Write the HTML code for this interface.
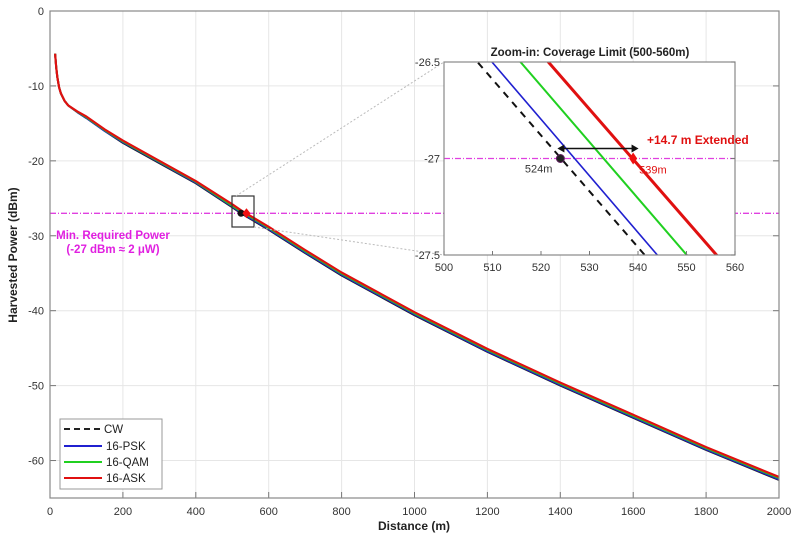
<!DOCTYPE html>
<html><head><meta charset="utf-8"><style>
html,body{margin:0;padding:0;background:#fff;}
svg{display:block;font-family:"Liberation Sans",Arial,sans-serif;}
</style></head><body>
<svg id="chart" width="800" height="542" viewBox="0 0 800 542">
<defs>
<clipPath id="mainClip"><rect x="50" y="11" width="729" height="487"/></clipPath>
<clipPath id="insetClip"><rect x="444" y="62" width="291" height="193"/></clipPath>
</defs>
<rect x="50" y="11" width="729" height="487" fill="#fff"/>
<g id="grid"></g>
<g id="series" clip-path="url(#mainClip)"></g>
<g id="axes"></g>
<g id="inset"></g>
<text x="414" y="530" text-anchor="middle" font-size="12" font-weight="bold" fill="#222">Distance (m)</text>
<text transform="translate(17,255) rotate(-90)" text-anchor="middle" font-size="12" font-weight="bold" fill="#222">Harvested Power (dBm)</text>
<text x="113" y="239" text-anchor="middle" font-size="11.5" font-weight="bold" fill="#e020e0">Min. Required Power</text>
<text x="113" y="253" text-anchor="middle" font-size="11.5" font-weight="bold" fill="#e020e0">(-27  dBm  ≈ 2  μW)</text>
<g>
<rect x="60" y="419" width="102" height="70" fill="#fff" stroke="#999" stroke-width="1"/>
<line x1="64" y1="429" x2="102" y2="429" stroke="#222" stroke-width="2" stroke-dasharray="6,4"/>
<text x="104" y="433" font-size="11.5" fill="#222">CW</text>
<line x1="64" y1="446" x2="102" y2="446" stroke="#2020d0" stroke-width="2"/>
<text x="106" y="450" font-size="11.5" fill="#222">16-PSK</text>
<line x1="64" y1="462" x2="102" y2="462" stroke="#20d020" stroke-width="2"/>
<text x="106" y="466" font-size="11.5" fill="#222">16-QAM</text>
<line x1="64" y1="478" x2="102" y2="478" stroke="#e01010" stroke-width="2"/>
<text x="106" y="482" font-size="11.5" fill="#222">16-ASK</text>
</g>
</svg>
<script>
const distances = [14,17,20,25,30,40,50,75,100,150,200,300,400,500,524,600,700,800,1000,1200,1400,1600,1800,2000];
const cwPower   = [-5.7,-7.5,-8.8,-10.2,-11,-12,-12.6,-13.5,-14.3,-16,-17.6,-20.3,-23,-26.2,-27,-29.2,-32.3,-35.3,-40.6,-45.5,-50,-54.3,-58.6,-62.6];
const pskPower  = [-5.7,-7.5,-8.8,-10.2,-11,-12,-12.6,-13.5,-14.3,-16,-17.5,-20.2,-22.9,-26.1,-26.9,-29.1,-32.2,-35.2,-40.5,-45.4,-49.9,-54.2,-58.5,-62.5];
const qamPower  = [-5.7,-7.5,-8.8,-10.2,-11,-12,-12.6,-13.45,-14.2,-15.9,-17.4,-20.1,-22.8,-26,-26.75,-28.95,-32.05,-35.05,-40.35,-45.25,-49.75,-54.05,-58.35,-62.35];
const askPower  = [-5.7,-7.5,-8.8,-10.2,-11,-12,-12.6,-13.4,-14.1,-15.8,-17.3,-20,-22.7,-25.8,-26.6,-28.8,-31.9,-34.9,-40.2,-45.1,-49.6,-53.9,-58.2,-62.2];
const xTicks = [0,200,400,600,800,1000,1200,1400,1600,1800,2000];
const yTicks = [0,-10,-20,-30,-40,-50,-60];
const minPower = -27;
const insetRange = [500,560];
const cwInset  = [-26.30,-28.04];
const pskInset = [-26.21,-27.97];
const qamInset = [-26.04,-27.79];
const askInset = [-25.88,-27.61];
const insetXTicks = [500,510,520,530,540,550,560];
const insetYTicks = [-26.5,-27,-27.5];
const cwLimit = 524, askLimit = 539;

const NS = "http://www.w3.org/2000/svg";
function mk(tag, attrs, parent){const e=document.createElementNS(NS,tag);for(const k in attrs)e.setAttribute(k,attrs[k]);parent.appendChild(e);return e;}
const X = d => 50 + d/2000*729;
const Y = p => 11 + (-p)/65*487;
const grid=document.getElementById('grid'), axes=document.getElementById('axes'), ser=document.getElementById('series'), inset=document.getElementById('inset');

xTicks.forEach(t=>{
  const g=mk('line',{x1:X(t),x2:X(t),y1:11,y2:498,stroke:'#e6e6e6','stroke-width':1},grid);
  
  
  const tx=mk('text',{x:X(t),y:515,'text-anchor':'middle','font-size':11,fill:'#333'},axes);
  tx.textContent=t;
  
  
  mk('line',{x1:X(t),x2:X(t),y1:498,y2:492,stroke:'#777'},axes);
});
yTicks.forEach(t=>{
  const g=mk('line',{x1:50,x2:779,y1:Y(t),y2:Y(t),stroke:'#e6e6e6','stroke-width':1},grid);
  
  
  const tx=mk('text',{x:44,y:Y(t)+4,'text-anchor':'end','font-size':11,fill:'#333'},axes);
  tx.textContent=t;
  
  
  mk('line',{x1:50,x2:56,y1:Y(t),y2:Y(t),stroke:'#777'},axes);
  mk('line',{x1:779,x2:773,y1:Y(t),y2:Y(t),stroke:'#777'},axes);
});
mk('rect',{x:50,y:11,width:729,height:487,fill:'none',stroke:'#888','stroke-width':1.2},axes);

const ml=mk('line',{x1:50,x2:779,y1:Y(minPower),y2:Y(minPower),stroke:'#e040e0','stroke-width':1.3,'stroke-dasharray':'6,2,1,2'},ser);


function path(ds,ps,fx,fy){return ds.map((d,i)=>(i?'L':'M')+fx(d).toFixed(1)+','+fy(ps[i]).toFixed(1)).join(' ');}
[[cwPower,'#222',2,'series-cw'],[pskPower,'#2020d0',2,'series-16psk'],[qamPower,'#20d020',2,'series-16qam'],[askPower,'#e01010',2.2,'series-16ask']].forEach(s=>{
  const p=mk('path',{d:path(distances,s[0],X,Y),fill:'none',stroke:s[1],'stroke-width':s[2],'stroke-linejoin':'round'},ser);
  
  
});
const m1=mk('circle',{cx:X(cwLimit),cy:Y(minPower),r:3.5,fill:'#111'},ser);


const m2=mk('path',{d:`M${X(askLimit)},${Y(minPower)-5} l4,5 l-4,5 l-4,-5z`,fill:'#f01010'},ser);


const zb=mk('rect',{x:232,y:196,width:22,height:31,fill:'none',stroke:'#333','stroke-width':1.2},axes);


mk('line',{x1:236,y1:196,x2:444,y2:62,stroke:'#bbb','stroke-dasharray':'2,2'},axes);
mk('line',{x1:254,y1:227,x2:444,y2:255,stroke:'#bbb','stroke-dasharray':'2,2'},axes);

// inset
const IX = d => 444 + (d-500)/60*291;
const IY = p => 62 + (-26.5-p)/1*193;
mk('rect',{x:444,y:62,width:291,height:193,fill:'#fff'},inset);
const ic=mk('g',{'clip-path':'url(#insetClip)'},inset);
const il=mk('line',{x1:444,x2:735,y1:IY(minPower),y2:IY(minPower),stroke:'#e040e0','stroke-width':1.3,'stroke-dasharray':'6,2,1,2'},ic);


[[cwInset,'#111',2,'inset-series-cw','7,6'],[pskInset,'#2020d0',1.6,'inset-series-16psk',''],[qamInset,'#20d020',2,'inset-series-16qam',''],[askInset,'#e01010',3,'inset-series-16ask','']].forEach(s=>{
  const a={d:path(insetRange,s[0],IX,IY),fill:'none',stroke:s[1],'stroke-width':s[2]};
  if(s[4])a['stroke-dasharray']=s[4];
  const p=mk('path',a,ic);
  
  
});
mk('rect',{x:444,y:62,width:291,height:193,fill:'none',stroke:'#888','stroke-width':1.2},inset);
insetXTicks.forEach(t=>{
  const tx=mk('text',{x:IX(t),y:271,'text-anchor':'middle','font-size':11,fill:'#333'},inset);
  tx.textContent=t;
  
  
  mk('line',{x1:IX(t),x2:IX(t),y1:255,y2:251,stroke:'#777'},inset);
});
insetYTicks.forEach(t=>{
  const tx=mk('text',{x:440,y:IY(t)+4,'text-anchor':'end','font-size':11,fill:'#333'},inset);
  tx.textContent=t;
  
  
  mk('line',{x1:735,x2:731,y1:IY(t),y2:IY(t),stroke:'#777'},inset);
});
const tt=mk('text',{x:590,y:56,'text-anchor':'middle','font-size':11.5,'font-weight':'bold',fill:'#222'},inset);
tt.textContent='Zoom-in: Coverage Limit (500-560m)';


const ay=IY(minPower)-10;
mk('line',{x1:IX(cwLimit)+1,x2:IX(askLimit+0.5)-1,y1:ay,y2:ay,stroke:'#111','stroke-width':1.5},inset);
mk('path',{d:`M${IX(cwLimit)-3},${ay} l7,-4 v8z`,fill:'#111'},inset);
const ar=mk('path',{d:`M${IX(askLimit+0.5)+3},${ay} l-7,-4 v8z`,fill:'#111'},inset);


const ic1=mk('circle',{cx:IX(cwLimit),cy:IY(minPower),r:4,fill:'#222',stroke:'#602060','stroke-width':1},inset);


const ic2=mk('path',{d:`M${IX(askLimit)},${IY(minPower)-6} l4,6 l-4,6 l-4,-6z`,fill:'#f01010'},inset);


const l1=mk('text',{x:IX(cwLimit)-8,y:IY(minPower)+14,'text-anchor':'end','font-size':11,fill:'#333'},inset);
l1.textContent=cwLimit+'m';


const l2=mk('text',{x:IX(askLimit)+6,y:IY(minPower)+15,'font-size':11,fill:'#e01010'},inset);
l2.textContent=askLimit+'m';


const l3=mk('text',{x:647,y:144,'font-size':12,'font-weight':'bold',fill:'#e01010'},inset);
l3.textContent='+14.7 m Extended';


</script>
</body></html>
